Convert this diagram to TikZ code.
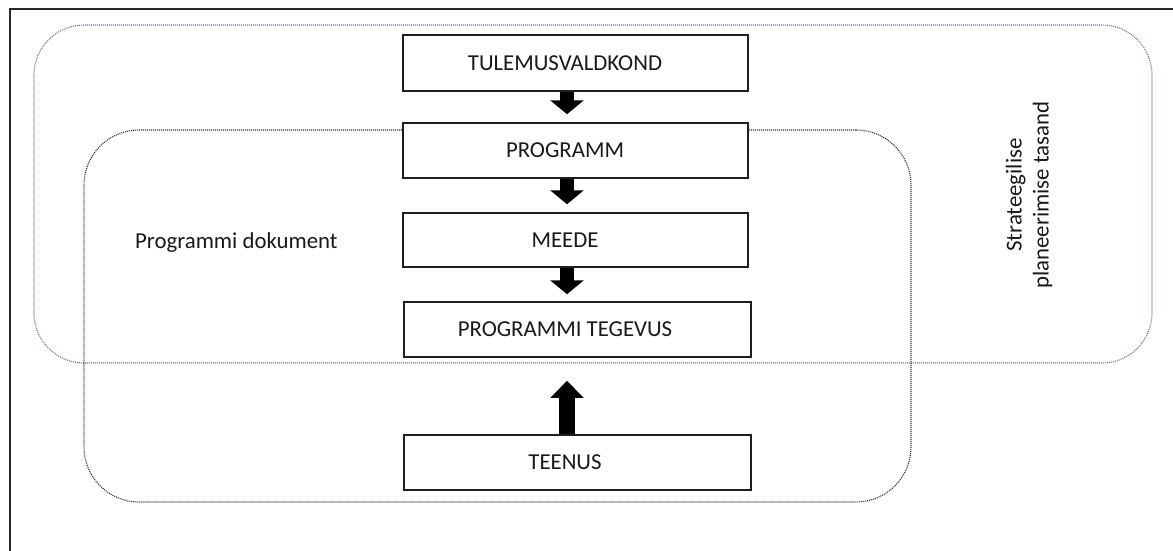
\documentclass[tikz,border=0pt]{standalone}
\usepackage{fontspec}
\setmainfont{Carlito}
\usetikzlibrary{arrows.meta}
\definecolor{outerline}{RGB}{100,120,150}
\definecolor{innerline}{RGB}{45,45,45}
\definecolor{boxline}{RGB}{30,30,30}
\tikzset{
  zone/.style={draw, line width=1.1pt, dash pattern=on 1pt off 1pt, minimum width=#1, inner sep=0pt},
  stepbox/.style={draw=boxline, line width=1.5pt, fill=white, minimum width=345pt, minimum height=55pt, inner sep=0pt},
  lbl/.style={font=\fontsize{22.8}{27}\selectfont, text=black!90, inner sep=0pt},
  blockdown/.style={line width=14pt, draw=black, -{Triangle[length=14pt,width=33pt]}},
  blockup/.style={line width=16pt, draw=black, -{Triangle[length=17pt,width=32pt]}}
}
\begin{document}
\begin{tikzpicture}[x=1pt,y=-1pt]
\useasboundingbox (0,0) rectangle (1173,551);
\fill[white] (0,0) rectangle (1173,551);
\begin{scope}
\clip (0,0) rectangle (1173,551);
\draw[line width=1.6pt, black!85] (10,600) -- (10,9) -- (1200,9);
\end{scope}
% zones
\node[zone=1118pt, draw=outerline, minimum height=338pt, rounded corners=50pt] (strat) at (593,194) {};
\node[zone=827pt, draw=innerline, minimum height=372pt, rounded corners=55pt] (prog) at (497.5,316) {};
% boxes
\node[stepbox, minimum height=56pt] (b1) at (575.5,63) {};
\node[stepbox] (b2) at (575.5,150.5) {};
\node[stepbox, minimum height=54pt] (b3) at (575.5,240) {};
\node[stepbox, minimum width=347pt] (b4) at (577.5,329.5) {};
\node[stepbox, minimum width=347pt] (b5) at (577.5,462.5) {};
% texts
\node[lbl] (t1) at (565,63) {TULEMUSVALDKOND};
\node[lbl] (t2) at (565,150.5) {PROGRAMM};
\node[lbl] (t3) at (565,240) {MEEDE};
\node[lbl] (t4) at (565,329.5) {PROGRAMMI TEGEVUS};
\node[lbl] (t5) at (565,462.5) {TEENUS};
\node[lbl, anchor=base west] (pd) at (135,248) {Programmi dokument};
\node[lbl, rotate=90, align=center] (sp) at (1029,195) {Strateegilise\\planeerimise tasand};
% arrows
\draw[blockdown, shorten >=8pt] ([xshift=-8.5pt]b1.south) -- ([xshift=-8.5pt]b2.north);
\draw[blockdown, shorten >=8pt] ([xshift=-8.5pt]b2.south) -- ([xshift=-8.5pt]b3.north);
\draw[blockdown, shorten >=7pt] ([xshift=-8.5pt]b3.south) -- ([xshift=-10.5pt]b4.north);
\draw[blockup, shorten >=23pt] ([xshift=-10.5pt]b5.north) -- ([xshift=-10.5pt]b4.south);
\end{tikzpicture}
\end{document}
